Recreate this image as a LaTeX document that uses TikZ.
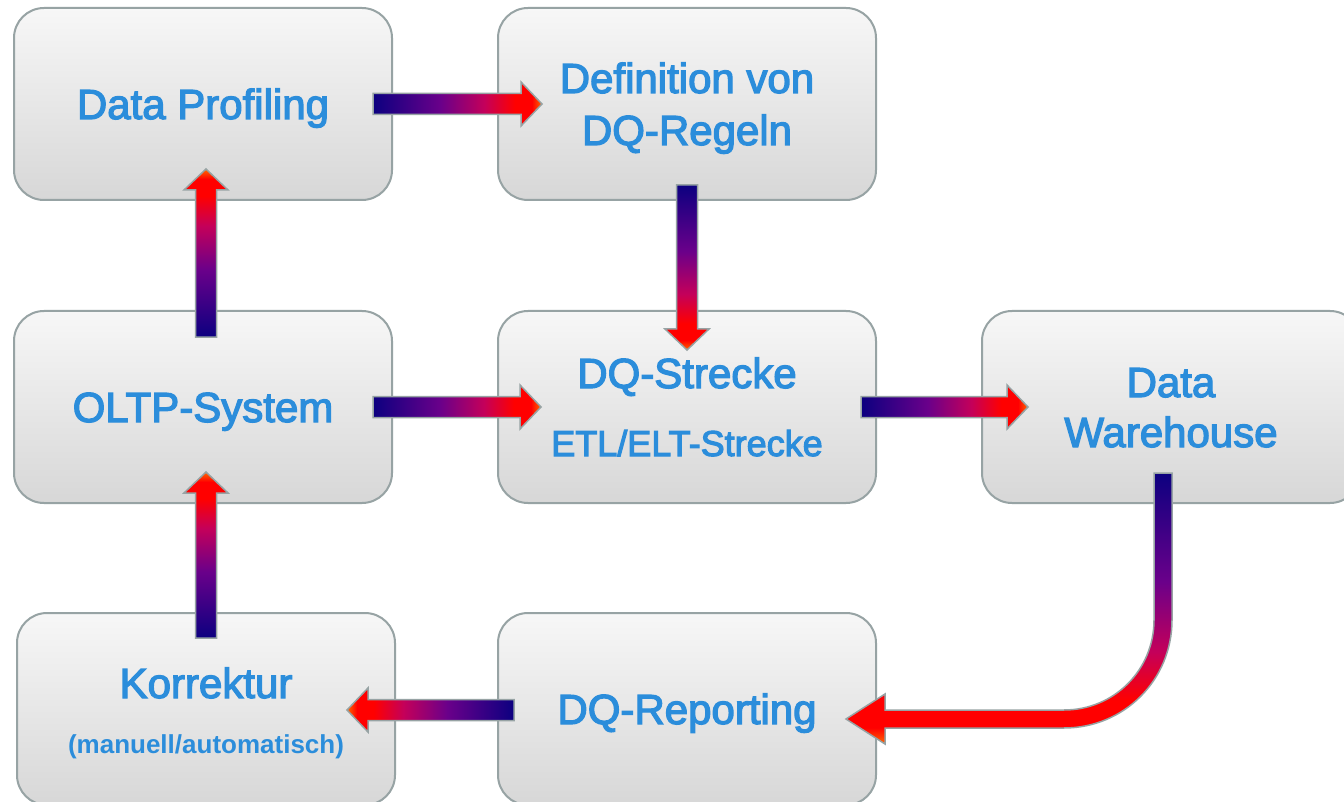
\documentclass[tikz,border=0pt]{standalone}
\usepackage{fontspec}
\setmainfont{Liberation Sans}
\newfontfamily\dqfont{Liberation Sans}[FakeBold=3]
\usetikzlibrary{calc}

\definecolor{dqblue}{HTML}{2B8DDB}
\definecolor{boxline}{HTML}{97A3A4}
\definecolor{boxtop}{HTML}{F7F7F7}
\definecolor{boxbottom}{HTML}{D7D7D7}
\definecolor{flownavy}{HTML}{0C0080}
\definecolor{flowpurple}{HTML}{6A008A}
\definecolor{flowcrimson}{HTML}{C4005A}
\definecolor{flowtip}{HTML}{FF6A00}

% gradients for the block arrows: dark at the tail, red/orange at the tip
\pgfdeclarehorizontalshading{flowr}{100bp}{color(0bp)=(flownavy); color(25bp)=(flownavy); color(45bp)=(flowpurple); color(58bp)=(flowcrimson); color(67bp)=(red); color(72bp)=(red); color(75bp)=(flowtip); color(100bp)=(flowtip)}
\pgfdeclareverticalshading{flowu}{100bp}{color(0bp)=(flownavy); color(25bp)=(flownavy); color(45bp)=(flowpurple); color(58bp)=(flowcrimson); color(67bp)=(red); color(72bp)=(red); color(75bp)=(flowtip); color(100bp)=(flowtip)}
\pgfdeclarehorizontalshading{flowl}{100bp}{color(0bp)=(flowtip); color(25bp)=(flowtip); color(28bp)=(red); color(33bp)=(red); color(42bp)=(flowcrimson); color(55bp)=(flowpurple); color(75bp)=(flownavy); color(100bp)=(flownavy)}
\pgfdeclareverticalshading{flowd}{100bp}{color(0bp)=(flowtip); color(25bp)=(flowtip); color(28bp)=(red); color(33bp)=(red); color(42bp)=(flowcrimson); color(55bp)=(flowpurple); color(75bp)=(flownavy); color(100bp)=(flownavy)}

\tikzstyle{dqbox} = [rectangle, rounded corners=30pt, draw=boxline, line width=2pt, top color=boxtop, bottom color=boxbottom, minimum width=378pt, minimum height=192pt, outer sep=0pt, anchor=north west, text=dqblue, align=center, text height=30pt, text depth=0pt, font=\dqfont\fontsize{42}{50}\selectfont]
\tikzstyle{flowarrow} = [draw=boxline, line width=1.5pt, line join=miter]

% block arrow: shading, tail, tip
\newcommand{\dqarrow}[3]{%
  \coordinate (hb) at ($(#3)!21pt!(#2)$);
  \shade[flowarrow, shading=#1] ($(#2)!10.5pt!90:(#3)$) -- ($(hb)!10.5pt!90:(#3)$) -- ($(hb)!22pt!90:(#3)$) -- (#3) -- ($(hb)!22pt!-90:(#3)$) -- ($(hb)!10.5pt!-90:(#3)$) -- ($(#2)!10.5pt!-90:(#3)$) -- cycle;
}

\begin{document}
\begin{tikzpicture}[x=1pt, y=-1pt]

        \fill[white] (0,0) rectangle (1344,802);
        \clip (0,0) rectangle (1344,802);

        \node (prof) [dqbox] at (14,8) {Data Profiling};
        \node (def) [dqbox, text height=82pt] at (498,8) {Definition von\\[2pt]DQ-Regeln};
        \node (oltp) [dqbox] at (14,311) {OLTP-System};
        \node (dqs) [dqbox, text height=98pt] at (498,311) {DQ-Strecke\\[18pt]{\fontsize{36}{43}\selectfont ETL/ELT-Strecke}};
        \node (dwh) [dqbox, text height=80pt] at (982,311) {Data\\Warehouse};
        \node (korr) [dqbox, text height=88pt] at (17,613) {Korrektur\\[5pt]{\fontfamily{\rmdefault}\fontsize{26}{30}\selectfont\bfseries (manuell/automatisch)}};
        \node (dqr) [dqbox] at (498,613) {DQ-Reporting};

        % arrow ends, tucked into the boxes
        \coordinate (a1s) at ($(prof.east)+(-19,0)$);
        \coordinate (a1e) at ($(def.west)+(44,0)$);
        \coordinate (a2s) at ($(def.south)+(0,-15)$);
        \coordinate (a2e) at ($(dqs.north)+(0,39)$);
        \coordinate (a3s) at ($(oltp.north)+(3,26)$);
        \coordinate (a3e) at ($(prof.south)+(3,-31)$);
        \coordinate (a4s) at ($(oltp.east)+(-19,0)$);
        \coordinate (a4e) at ($(dqs.west)+(43,0)$);
        \coordinate (a5s) at ($(dqs.east)+(-15,0)$);
        \coordinate (a5e) at ($(dwh.west)+(46,0)$);
        \coordinate (a6s) at ($(dwh.south)+(-8,-30)$);
        \coordinate (a6e) at ($(dqr.east)+(-30,10)$);
        \coordinate (a7s) at ($(dqr.west)+(16,1)$);
        \coordinate (a7e) at ($(korr.east)+(-48,1)$);
        \coordinate (a8s) at ($(korr.north)+(0,25)$);
        \coordinate (a8e) at ($(oltp.south)+(3,-31)$);

        \dqarrow{flowr}{a1s}{a1e}
        \dqarrow{flowd}{a2s}{a2e}
        \dqarrow{flowu}{a3s}{a3e}
        \dqarrow{flowr}{a4s}{a4e}
        \dqarrow{flowr}{a5s}{a5e}
        \dqarrow{flowl}{a7s}{a7e}
        \dqarrow{flowu}{a8s}{a8e}

        % bent arrow from the warehouse down to the reporting
        \shade[flowarrow, shading=flowd] let \p1=(a6s), \p2=(a6e) in
            (\x1+9pt,\y1) -- (\x1+9pt,\y2+99pt)
            .. controls (\x1+9pt,\y2+39pt) and (\x1-39pt,\y2-9pt) .. (\x1-99pt,\y2-9pt)
            -- (\x2+39pt,\y2-9pt) -- (\x2+39pt,\y2-25pt) -- (\x2,\y2) -- (\x2+39pt,\y2+25pt) -- (\x2+39pt,\y2+9pt)
            -- (\x1-99pt,\y2+9pt)
            .. controls (\x1-49pt,\y2+9pt) and (\x1-9pt,\y2+49pt) .. (\x1-9pt,\y2+99pt)
            -- (\x1-9pt,\y1) -- cycle;

    \end{tikzpicture}
\end{document}
